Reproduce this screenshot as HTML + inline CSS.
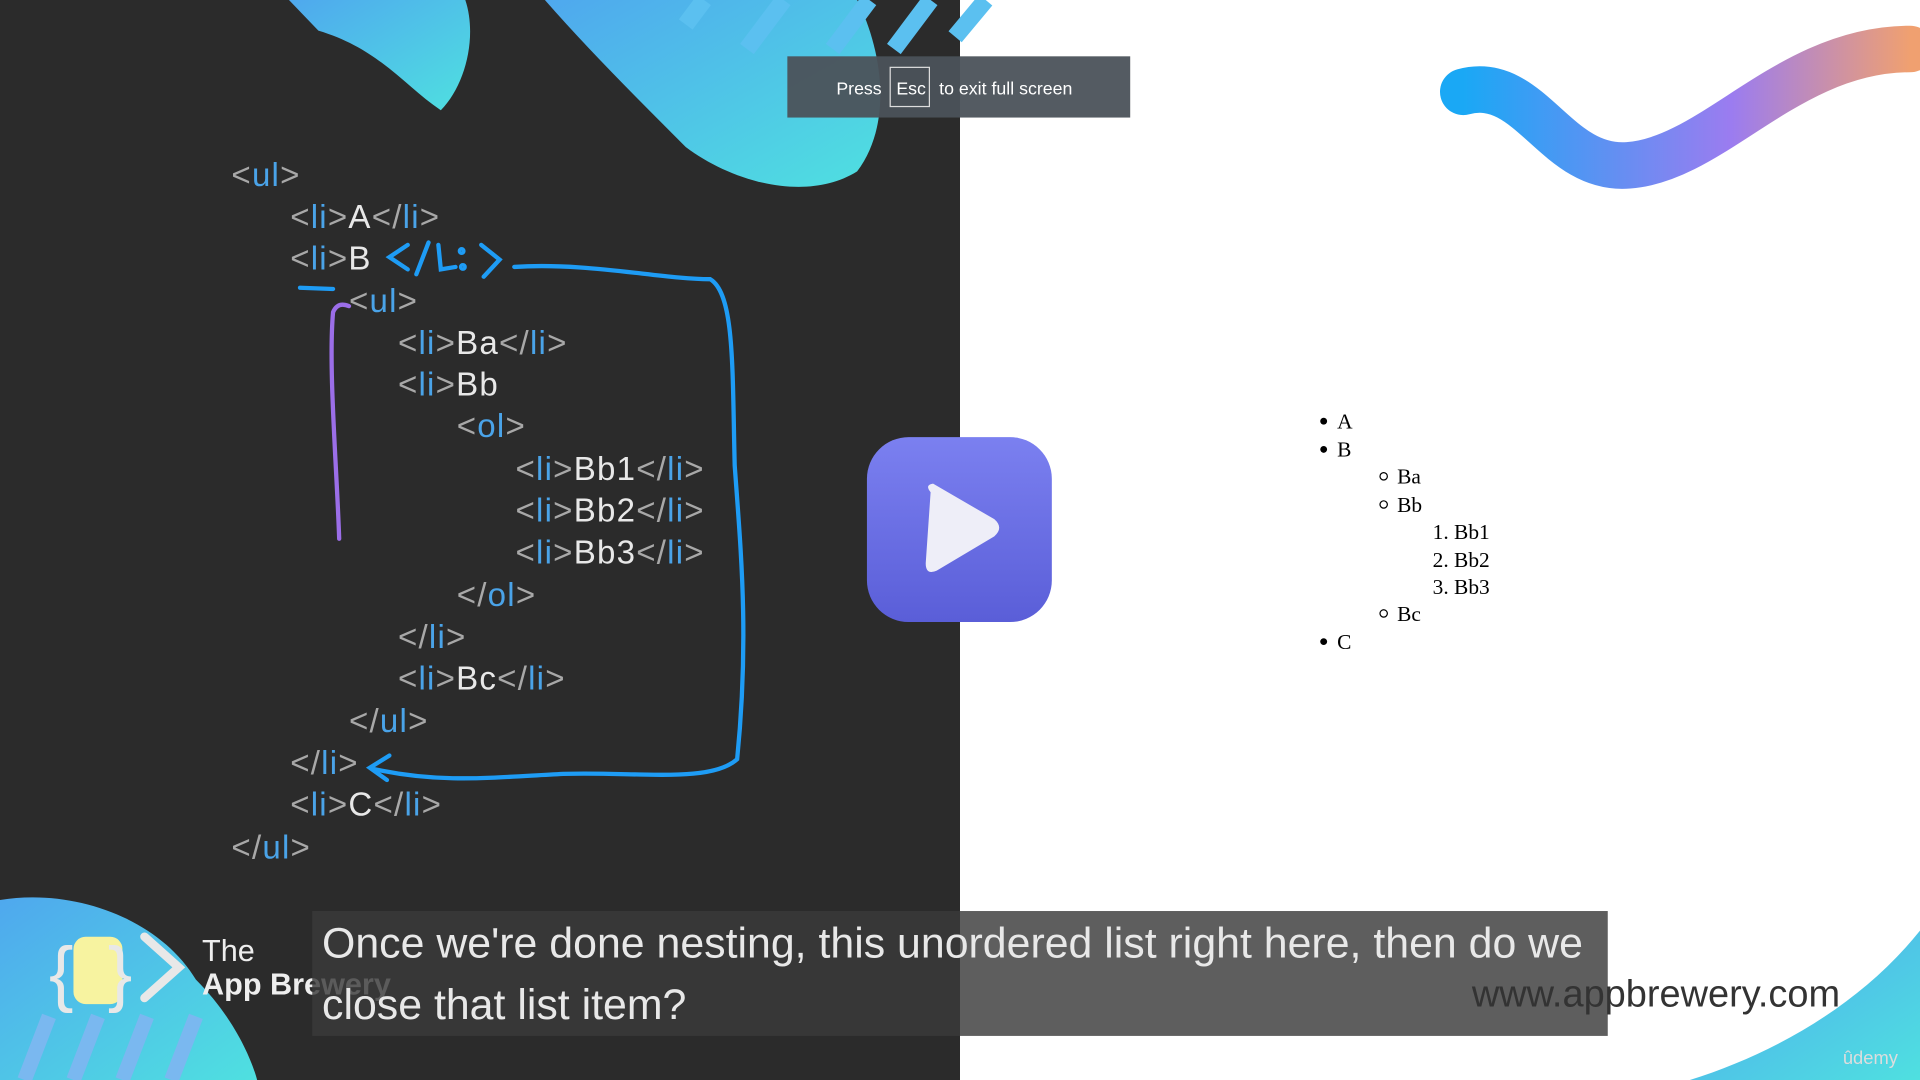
<!DOCTYPE html>
<html><head><meta charset="utf-8"><style>
html,body{margin:0;padding:0;width:1920px;height:1080px;overflow:hidden;background:#fff}
svg{display:block}
.c{font-family:"Liberation Sans",sans-serif;font-size:27px;letter-spacing:1px;fill:#a8a8a8}
.t{fill:#4aa3e8}.w{fill:#e8e8e8}
.r{font-family:"Liberation Serif",serif;font-size:17.5px;fill:#000}
</style></head><body>
<svg width="1920" height="1080" viewBox="0 0 1568 882" xmlns="http://www.w3.org/2000/svg">
<defs>
<linearGradient id="g1" x1="0" y1="0" x2="1" y2="1"><stop offset="0" stop-color="#4fa8ee"/><stop offset="1" stop-color="#4fe0e0"/></linearGradient>
<linearGradient id="g2" x1="0" y1="0" x2="1" y2="0"><stop offset="0" stop-color="#1aa8f5"/><stop offset="0.6" stop-color="#9b7cf0"/><stop offset="1" stop-color="#f0a070"/></linearGradient>
<linearGradient id="g3" x1="0" y1="0" x2="0" y2="1"><stop offset="0" stop-color="#7b80f0"/><stop offset="1" stop-color="#5a5ed8"/></linearGradient>
</defs>
<rect x="0" y="0" width="784" height="882" fill="#2b2b2b"/>
<rect x="784" y="0" width="784" height="882" fill="#fff"/>
<path d="M236 0 L380 0 C390 30 380 70 360 90 C330 70 310 40 260 25 Z" fill="url(#g1)"/>
<path d="M445 0 L700 0 C720 40 730 100 700 140 C660 165 600 150 560 120 C520 80 480 40 445 0 Z" fill="url(#g1)"/>
<g stroke="#5bc0f0" stroke-width="14">
<line x1="560" y1="20" x2="575" y2="0"/><line x1="610" y1="40" x2="640" y2="0"/><line x1="680" y1="40" x2="710" y2="0"/><line x1="730" y1="40" x2="760" y2="0"/><line x1="780" y1="30" x2="805" y2="0"/>
</g>
<path d="M0 735 C60 725 130 750 160 800 C200 840 210 882 210 882 L0 882 Z" fill="url(#g1)"/>
<g stroke="#7ab8f0" stroke-width="12">
<line x1="20" y1="882" x2="40" y2="830"/><line x1="60" y1="882" x2="80" y2="830"/><line x1="100" y1="882" x2="120" y2="830"/><line x1="140" y1="882" x2="160" y2="830"/>
</g>
<path d="M1195 75 C1250 60 1270 140 1330 135 C1400 130 1460 40 1560 40" fill="none" stroke="url(#g2)" stroke-width="38" stroke-linecap="round"/>
<path d="M1380 882 C1450 860 1520 820 1568 760 L1568 882 Z" fill="url(#g1)"/>
<g class="c">
<text x="189" y="152">&lt;<tspan class="t">ul</tspan>&gt;</text>
<text x="237" y="186">&lt;<tspan class="t">li</tspan>&gt;<tspan class="w">A</tspan>&lt;/<tspan class="t">li</tspan>&gt;</text>
<text x="237" y="220">&lt;<tspan class="t">li</tspan>&gt;<tspan class="w">B</tspan></text>
<text x="285" y="255">&lt;<tspan class="t">ul</tspan>&gt;</text>
<text x="325" y="289">&lt;<tspan class="t">li</tspan>&gt;<tspan class="w">Ba</tspan>&lt;/<tspan class="t">li</tspan>&gt;</text>
<text x="325" y="323">&lt;<tspan class="t">li</tspan>&gt;<tspan class="w">Bb</tspan></text>
<text x="373" y="357">&lt;<tspan class="t">ol</tspan>&gt;</text>
<text x="421" y="392">&lt;<tspan class="t">li</tspan>&gt;<tspan class="w">Bb1</tspan>&lt;/<tspan class="t">li</tspan>&gt;</text>
<text x="421" y="426">&lt;<tspan class="t">li</tspan>&gt;<tspan class="w">Bb2</tspan>&lt;/<tspan class="t">li</tspan>&gt;</text>
<text x="421" y="460">&lt;<tspan class="t">li</tspan>&gt;<tspan class="w">Bb3</tspan>&lt;/<tspan class="t">li</tspan>&gt;</text>
<text x="373" y="495">&lt;/<tspan class="t">ol</tspan>&gt;</text>
<text x="325" y="529">&lt;/<tspan class="t">li</tspan>&gt;</text>
<text x="325" y="563">&lt;<tspan class="t">li</tspan>&gt;<tspan class="w">Bc</tspan>&lt;/<tspan class="t">li</tspan>&gt;</text>
<text x="285" y="598">&lt;/<tspan class="t">ul</tspan>&gt;</text>
<text x="237" y="632">&lt;/<tspan class="t">li</tspan>&gt;</text>
<text x="237" y="666">&lt;<tspan class="t">li</tspan>&gt;<tspan class="w">C</tspan>&lt;/<tspan class="t">li</tspan>&gt;</text>
<text x="189" y="701">&lt;/<tspan class="t">ul</tspan>&gt;</text>
</g>
<g fill="none" stroke="#1e9cf5" stroke-width="3.5" stroke-linecap="round">
<path d="M333 200 L318 210 L333 220"/><path d="M350 198 L340 224"/><path d="M358 200 L360 220 L372 218"/><circle cx="377" cy="205" r="1.5"/><circle cx="378" cy="218" r="1.5"/><path d="M393 200 L408 212 L395 226"/>
<path d="M245 235 L272 236"/>
<path d="M420 218 C480 214 540 228 580 228 C600 240 598 300 600 380 C605 450 612 520 602 620 C580 640 520 630 460 632 C400 635 360 640 305 628"/>
<path d="M318 617 L302 627 L316 637"/>
</g>
<path d="M277 440 C275 380 268 300 272 255 C275 248 280 248 285 250" fill="none" stroke="#9b6ee8" stroke-width="3.5" stroke-linecap="round"/>
<rect x="708" y="357" width="151" height="151" rx="34" fill="url(#g3)"/>
<path d="M760 402 Q755 396 762 395 L812 424 Q820 431 812 438 L765 466 Q756 470 756 460 Z" fill="#eeeef8"/>
<rect x="643" y="46" width="280" height="50" fill="#4b525a" opacity="0.95"/>
<g font-family="Liberation Sans,sans-serif" font-size="14.5" fill="#fff">
<text x="683" y="77">Press</text>
<rect x="727" y="55" width="32" height="32" fill="none" stroke="#ddd" stroke-width="1"/>
<text x="732" y="77">Esc</text>
<text x="767" y="77">to exit full screen</text>
</g>
<g class="r">
<circle cx="1081" cy="344" r="2.8" fill="#000"/><text x="1092" y="350">A</text>
<circle cx="1081" cy="367" r="2.8" fill="#000"/><text x="1092" y="373">B</text>
<circle cx="1130" cy="389" r="3" fill="none" stroke="#000"/><text x="1141" y="395">Ba</text>
<circle cx="1130" cy="412" r="3" fill="none" stroke="#000"/><text x="1141" y="418">Bb</text>
<text x="1170" y="440">1. Bb1</text><text x="1170" y="463">2. Bb2</text><text x="1170" y="485">3. Bb3</text>
<circle cx="1130" cy="501" r="3" fill="none" stroke="#000"/><text x="1141" y="507">Bc</text>
<circle cx="1081" cy="524" r="2.8" fill="#000"/><text x="1092" y="530">C</text>
</g>
<g fill="none" stroke="#e8e8e8" stroke-width="7" stroke-linecap="round">
<path d="M118 765 L146 790 L118 815"/>
</g>
<rect x="60" y="765" width="40" height="55" rx="10" fill="#f7f3a0"/>
<text x="40" y="815" font-family="Liberation Sans,sans-serif" font-size="60" fill="#e8e8e8">{</text>
<text x="88" y="815" font-family="Liberation Sans,sans-serif" font-size="60" fill="#e8e8e8">}</text>
<text x="165" y="785" font-family="Liberation Sans,sans-serif" font-size="25" fill="#eee">The</text>
<text x="165" y="812" font-family="Liberation Sans,sans-serif" font-size="25" font-weight="bold" fill="#eee">App Brewery</text>
<rect x="255" y="744" width="1058" height="102" fill="#3a3a3a" opacity="0.82"/>
<g font-family="Liberation Sans,sans-serif" font-size="35" fill="#e8e8e8">
<text x="263" y="782">Once we're done nesting, this unordered list right here, then do we</text>
<text x="263" y="832">close that list item?</text>
</g>
<text x="1202" y="822" font-family="Liberation Sans,sans-serif" font-size="31" fill="#333">www.appbrewery.com</text>
<text x="1505" y="869" font-family="Liberation Sans,sans-serif" font-size="15" fill="#ddd">ûdemy</text>
</svg>
</body></html>
